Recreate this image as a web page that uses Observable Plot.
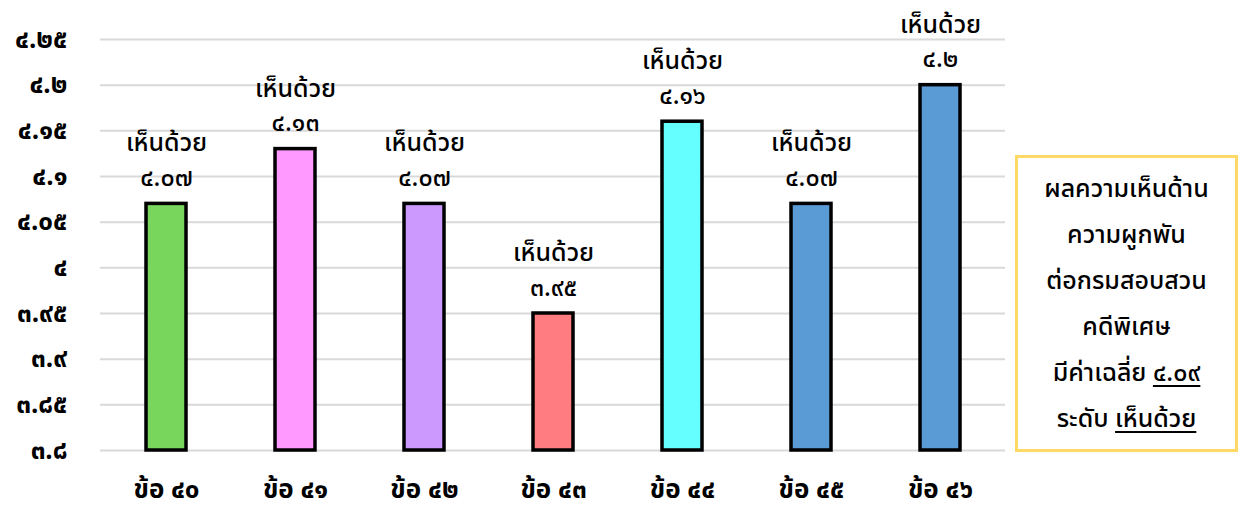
<!DOCTYPE html>
<html>
<head>
<meta charset="utf-8">
<script src="https://cdn.jsdelivr.net/npm/d3@7"></script>
<script src="https://cdn.jsdelivr.net/npm/@observablehq/plot@0.6"></script>
<style>
  html, body { margin: 0; padding: 0; background: #fff; }
  #wrap { position: relative; width: 1243px; height: 511px; font-family: "Noto Sans Thai", "Noto Sans", "DejaVu Sans", sans-serif; }
  #legend { position: absolute; left: 1015px; top: 155px; width: 217px; height: 291px; border: 3px solid #FFD966; box-sizing: content-box;
    display: flex; flex-direction: column; justify-content: center; align-items: center; text-align: center; font-size: 25px; font-weight: 500; line-height: 46px; color: #000; white-space: nowrap; }
  #legend u { text-underline-offset: 4px; text-decoration-thickness: 2px; }
</style>
</head>
<body>
<div id="wrap"></div>
<script>
const categories = ["ข้อ ๔๐", "ข้อ ๔๑", "ข้อ ๔๒", "ข้อ ๔๓", "ข้อ ๔๔", "ข้อ ๔๕", "ข้อ ๔๖"];
const values = [4.07, 4.13, 4.07, 3.95, 4.16, 4.07, 4.20];
const valueLabels = ["๔.๐๗", "๔.๑๓", "๔.๐๗", "๓.๙๕", "๔.๑๖", "๔.๐๗", "๔.๒"];
const levelLabel = "เห็นด้วย";
const colors = ["#77d65b", "#ff99ff", "#cc99ff", "#ff7c80", "#66ffff", "#5b9bd5", "#5b9bd5"];
const yTickValues = [3.8, 3.85, 3.9, 3.95, 4.0, 4.05, 4.1, 4.15, 4.2, 4.25];
const yTickLabels = ["๓.๘", "๓.๘๕", "๓.๙", "๓.๙๕", "๔", "๔.๐๕", "๔.๑", "๔.๑๕", "๔.๒", "๔.๒๕"];
const legendLines = ["ผลความเห็นด้าน", "ความผูกพัน", "ต่อกรมสอบสวน", "คดีพิเศษ"];
const meanLabel = "มีค่าเฉลี่ย";
const meanValue = "๔.๐๙";
const levelPrefix = "ระดับ";

const data = categories.map((c, i) => ({cat: c, value: values[i], label: levelLabel + "\n" + valueLabels[i], color: colors[i]}));
const fontFam = '"Noto Sans Thai", "Noto Sans", "DejaVu Sans", sans-serif';

const chart = Plot.plot({
  width: 1243,
  height: 511,
  marginLeft: 100,
  marginRight: 238,
  marginTop: 39,
  marginBottom: 61,
  style: {fontFamily: fontFam, color: "#000", background: "#fff"},
  x: {domain: categories, paddingInner: 0.69, paddingOuter: 0.345, label: null},
  y: {domain: [3.8, 4.25], label: null},
  marks: [
    Plot.gridY(yTickValues, {stroke: "#d9d9d9", strokeOpacity: 1, strokeWidth: 2}),
    Plot.axisY(yTickValues, {tickSize: 0, tickPadding: 33, fontSize: 26, fontWeight: "bold",
      tickFormat: (d) => yTickLabels[yTickValues.indexOf(d)], label: null}),
    Plot.axisX({tickSize: 0, tickPadding: 29, fontSize: 26, fontWeight: "bold", label: null}),
    Plot.barY(data, {x: "cat", y1: 3.8, y2: "value", fill: "color", stroke: "#000", strokeWidth: 3.5}),
    Plot.text(data, {x: "cat", y: "value", text: "label", lineAnchor: "bottom", dy: -18, fontSize: 25, lineHeight: 1.38, fontWeight: 500, fill: "#000"})
  ]
});
document.getElementById("wrap").appendChild(chart);

const legend = document.createElement("div");
legend.id = "legend";
legend.innerHTML = legendLines.map(l => `<div>${l}</div>`).join("") +
  `<div>${meanLabel} <u>${meanValue}</u></div>` +
  `<div>${levelPrefix} <u>${levelLabel}</u></div>`;
document.getElementById("wrap").appendChild(legend);
</script>
</body>
</html>
